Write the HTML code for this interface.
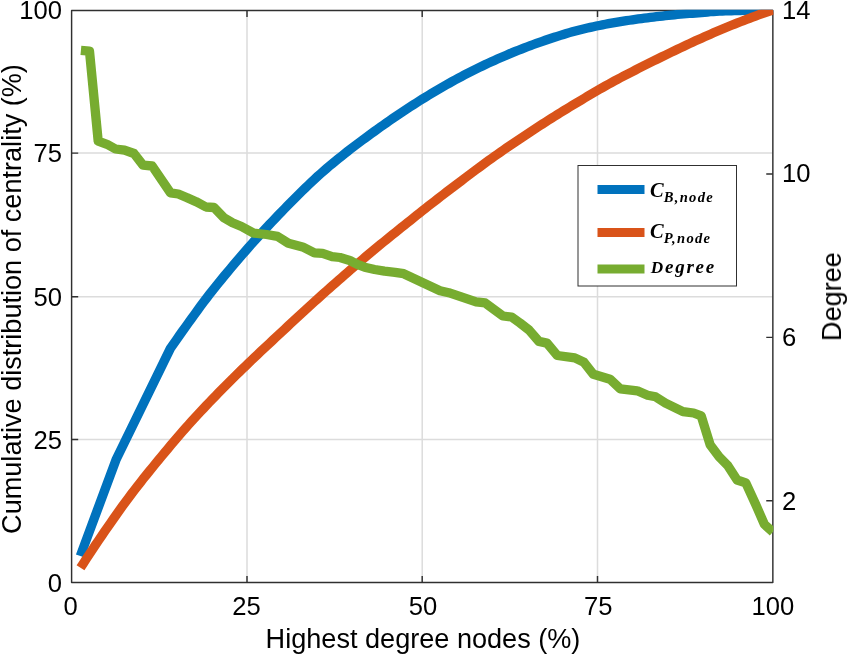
<!DOCTYPE html>
<html><head><meta charset="utf-8"><style>
html,body{margin:0;padding:0;background:#fff;overflow:hidden}
svg{display:block}
</style></head><body>
<svg width="847" height="655" viewBox="0 0 847 655">
<rect width="847" height="655" fill="#fff"/>
<path d="M247.0 10.5V582.5M422.2 10.5V582.5M597.5 10.5V582.5M71.6 439.4H772.85M71.6 296.8H772.85M71.6 153.1H772.85" stroke="#dcdcdc" stroke-width="1.5" fill="none"/>
<path d="M71.6 10.5H772.85V582.5H71.6Z" stroke="#303030" stroke-width="1.45" fill="none" stroke-linejoin="round"/>
<path d="M247.0 582.5v-6.6M247.0 10.5v6.6M422.2 582.5v-6.6M422.2 10.5v6.6M597.5 582.5v-6.6M597.5 10.5v6.6M71.6 439.4h6.6M71.6 296.8h6.6M71.6 153.1h6.6M772.85 173.93h-6.6M772.85 337.36h-6.6M772.85 500.79h-6.6" stroke="#303030" stroke-width="1.45" fill="none"/>
<defs><clipPath id="c"><rect x="71.6" y="9.8" width="701.75" height="572.70"/></clipPath></defs>
<g clip-path="url(#c)" fill="none" stroke-width="9.3" stroke-linejoin="round" stroke-linecap="butt">
<polyline points="80.30,556.00 116.00,459.80 170.40,348.40 173.40,344.09 176.40,339.80 179.40,335.54 182.40,331.31 185.40,327.10 188.40,322.91 191.40,318.75 194.40,314.60 197.40,310.46 200.40,306.35 203.40,302.31 206.40,298.33 209.40,294.45 212.40,290.62 215.40,286.86 218.40,283.13 221.40,279.46 224.40,275.82 227.40,272.21 230.40,268.62 233.40,265.06 236.40,261.53 239.40,258.02 242.40,254.54 245.40,251.08 248.40,247.66 251.40,244.26 254.40,240.90 257.40,237.56 260.40,234.26 263.40,230.99 266.40,227.75 269.40,224.54 272.40,221.35 275.40,218.19 278.40,215.06 281.40,211.96 284.40,208.88 287.40,205.83 290.40,202.80 293.40,199.78 296.40,196.78 299.40,193.79 302.40,190.82 305.40,187.88 308.40,184.98 311.40,182.12 314.40,179.30 317.40,176.54 320.40,173.84 323.40,171.20 326.40,168.61 329.40,166.07 332.40,163.56 335.40,161.10 338.40,158.66 341.40,156.26 344.40,153.87 347.40,151.52 350.40,149.19 353.40,146.89 356.40,144.62 359.40,142.37 362.40,140.14 365.40,137.94 368.40,135.74 371.40,133.56 374.40,131.39 377.40,129.23 380.40,127.08 383.40,124.95 386.40,122.83 389.40,120.73 392.40,118.66 395.40,116.60 398.40,114.57 401.40,112.57 404.40,110.58 407.40,108.61 410.40,106.66 413.40,104.73 416.40,102.81 419.40,100.92 422.40,99.05 425.40,97.19 428.40,95.37 431.40,93.56 434.40,91.77 437.40,90.00 440.40,88.24 443.40,86.50 446.40,84.79 449.40,83.09 452.40,81.42 455.40,79.77 458.40,78.15 461.40,76.56 464.40,74.98 467.40,73.43 470.40,71.89 473.40,70.38 476.40,68.89 479.40,67.42 482.40,65.97 485.40,64.54 488.40,63.14 491.40,61.76 494.40,60.40 497.40,59.06 500.40,57.74 503.40,56.44 506.40,55.15 509.40,53.89 512.40,52.65 515.40,51.43 518.40,50.23 521.40,49.05 524.40,47.89 527.40,46.74 530.40,45.61 533.40,44.49 536.40,43.39 539.40,42.32 542.40,41.26 545.40,40.23 548.40,39.23 551.40,38.24 554.40,37.27 557.40,36.31 560.40,35.37 563.40,34.44 566.40,33.54 569.40,32.66 572.40,31.81 575.40,30.99 578.40,30.20 581.40,29.45 584.40,28.73 587.40,28.03 590.40,27.35 593.40,26.69 596.40,26.05 599.40,25.43 602.40,24.83 605.40,24.25 608.40,23.69 611.40,23.15 614.40,22.63 617.40,22.12 620.40,21.63 623.40,21.15 626.40,20.69 629.40,20.24 632.40,19.80 635.40,19.38 638.40,18.97 641.40,18.56 644.40,18.17 647.40,17.79 650.40,17.41 653.40,17.05 656.40,16.69 659.40,16.35 662.40,16.01 665.40,15.68 668.40,15.37 671.40,15.06 674.40,14.76 677.40,14.47 680.40,14.20 683.40,13.93 686.40,13.69 689.40,13.46 692.40,13.25 695.40,13.04 698.40,12.82 701.40,12.58 704.40,12.30 707.40,12.01 710.40,11.73 713.40,11.49 716.40,11.33 719.40,11.19 722.40,11.06 725.40,10.94 728.40,10.83 731.40,10.73 734.40,10.64 737.40,10.56 740.40,10.49 743.40,10.43 746.40,10.38 749.40,10.33 752.40,10.28 755.40,10.24 758.40,10.20 761.40,10.17 764.40,10.14 767.40,10.12 770.40,10.10 772.90,10.10" stroke="#0072bd"/>
<polyline points="80.50,567.80 83.50,563.16 86.50,558.55 89.50,553.98 92.50,549.44 95.50,544.95 98.50,540.50 101.50,536.10 104.50,531.72 107.50,527.37 110.50,523.03 113.50,518.73 116.50,514.47 119.50,510.25 122.50,506.08 125.50,501.96 128.50,497.90 131.50,493.91 134.50,489.98 137.50,486.10 140.50,482.27 143.50,478.48 146.50,474.74 149.50,471.02 152.50,467.33 155.50,463.67 158.50,460.02 161.50,456.38 164.50,452.77 167.50,449.17 170.50,445.59 173.50,442.04 176.50,438.52 179.50,435.03 182.50,431.57 185.50,428.15 188.50,424.77 191.50,421.44 194.50,418.14 197.50,414.88 200.50,411.65 203.50,408.45 206.50,405.28 209.50,402.14 212.50,399.02 215.50,395.92 218.50,392.83 221.50,389.77 224.50,386.73 227.50,383.72 230.50,380.73 233.50,377.76 236.50,374.80 239.50,371.87 242.50,368.95 245.50,366.04 248.50,363.15 251.50,360.26 254.50,357.39 257.50,354.54 260.50,351.71 263.50,348.89 266.50,346.09 269.50,343.29 272.50,340.49 275.50,337.70 278.50,334.90 281.50,332.10 284.50,329.30 287.50,326.50 290.50,323.70 293.50,320.90 296.50,318.11 299.50,315.33 302.50,312.56 305.50,309.81 308.50,307.06 311.50,304.34 314.50,301.63 317.50,298.93 320.50,296.24 323.50,293.57 326.50,290.90 329.50,288.24 332.50,285.59 335.50,282.95 338.50,280.32 341.50,277.69 344.50,275.06 347.50,272.43 350.50,269.82 353.50,267.21 356.50,264.61 359.50,262.02 362.50,259.45 365.50,256.89 368.50,254.36 371.50,251.85 374.50,249.36 377.50,246.89 380.50,244.43 383.50,241.99 386.50,239.56 389.50,237.14 392.50,234.73 395.50,232.32 398.50,229.91 401.50,227.49 404.50,225.08 407.50,222.67 410.50,220.26 413.50,217.86 416.50,215.47 419.50,213.08 422.50,210.70 425.50,208.33 428.50,205.97 431.50,203.63 434.50,201.30 437.50,198.97 440.50,196.66 443.50,194.35 446.50,192.05 449.50,189.76 452.50,187.48 455.50,185.20 458.50,182.93 461.50,180.67 464.50,178.40 467.50,176.14 470.50,173.88 473.50,171.63 476.50,169.38 479.50,167.15 482.50,164.94 485.50,162.75 488.50,160.58 491.50,158.43 494.50,156.30 497.50,154.19 500.50,152.10 503.50,150.02 506.50,147.95 509.50,145.90 512.50,143.86 515.50,141.83 518.50,139.81 521.50,137.79 524.50,135.79 527.50,133.80 530.50,131.81 533.50,129.84 536.50,127.88 539.50,125.93 542.50,123.99 545.50,122.06 548.50,120.15 551.50,118.25 554.50,116.37 557.50,114.49 560.50,112.63 563.50,110.78 566.50,108.95 569.50,107.12 572.50,105.30 575.50,103.49 578.50,101.70 581.50,99.91 584.50,98.12 587.50,96.34 590.50,94.57 593.50,92.80 596.50,91.05 599.50,89.32 602.50,87.60 605.50,85.90 608.50,84.23 611.50,82.58 614.50,80.95 617.50,79.34 620.50,77.75 623.50,76.17 626.50,74.61 629.50,73.06 632.50,71.52 635.50,69.99 638.50,68.46 641.50,66.94 644.50,65.43 647.50,63.92 650.50,62.43 653.50,60.94 656.50,59.46 659.50,57.99 662.50,56.53 665.50,55.07 668.50,53.62 671.50,52.18 674.50,50.73 677.50,49.29 680.50,47.86 683.50,46.43 686.50,45.01 689.50,43.60 692.50,42.21 695.50,40.83 698.50,39.47 701.50,38.13 704.50,36.80 707.50,35.48 710.50,34.16 713.50,32.85 716.50,31.56 719.50,30.28 722.50,29.01 725.50,27.75 728.50,26.51 731.50,25.28 734.50,24.07 737.50,22.88 740.50,21.71 743.50,20.55 746.50,19.41 749.50,18.28 752.50,17.17 755.50,16.07 758.50,14.99 761.50,13.92 764.50,12.87 767.50,11.83 770.50,10.81 772.90,10.00" stroke="#d95319"/>
<polyline points="80.90,50.40 89.50,51.20 98.20,141.20 107.00,144.30 115.50,149.00 124.50,150.20 134.00,153.50 143.00,165.20 152.20,166.00 170.50,192.90 178.30,194.00 187.20,197.70 196.10,201.70 206.00,207.00 214.00,207.50 223.90,217.70 232.50,222.80 241.50,226.50 253.60,233.10 266.50,234.50 277.50,236.40 288.40,243.30 302.60,246.90 314.40,252.80 322.60,253.40 332.10,256.60 340.00,257.50 349.80,260.50 357.30,264.40 364.70,267.20 374.60,269.50 384.50,271.20 395.00,272.30 403.70,273.70 440.00,290.70 448.70,292.70 476.10,301.80 485.20,302.90 502.90,316.00 511.60,317.00 520.00,323.00 529.00,330.00 538.90,341.40 546.90,343.10 557.30,355.50 574.80,357.90 584.00,362.30 593.40,374.30 610.00,379.20 620.30,388.90 637.30,390.80 647.60,395.20 655.60,396.80 665.50,403.10 683.00,411.60 693.60,413.00 701.20,415.80 710.10,444.70 719.10,456.80 727.70,465.50 737.10,480.00 745.80,482.90 755.50,504.00 764.40,524.40 772.90,532.00" stroke="#77ac30"/>
</g>
<g font-family="Liberation Sans, sans-serif" font-size="25.6" fill="#000" style="will-change:transform">
<text x="70.7" y="614.5" text-anchor="middle">0</text>
<text x="246.6" y="614.5" text-anchor="middle">25</text>
<text x="423" y="614.5" text-anchor="middle">50</text>
<text x="598.25" y="614.5" text-anchor="middle">75</text>
<text x="772.85" y="614.5" text-anchor="middle">100</text>
<text x="62.0" y="591.7" text-anchor="end">0</text>
<text x="62.0" y="448.6" text-anchor="end">25</text>
<text x="62.0" y="306.0" text-anchor="end">50</text>
<text x="62.0" y="162.3" text-anchor="end">75</text>
<text x="62.0" y="19.0" text-anchor="end">100</text>
<text x="782.0" y="18.7">14</text>
<text x="782.0" y="182.4">10</text>
<text x="782.0" y="346.4">6</text>
<text x="782.0" y="509.8">2</text>
<text x="423" y="647.5" text-anchor="middle" font-size="27.1">Highest degree nodes (%)</text>
<text transform="translate(21 299) rotate(-90)" text-anchor="middle" font-size="27.1">Cumulative distribution of centrality (%)</text>
<text transform="translate(841 296.6) rotate(-90)" text-anchor="middle" font-size="27.1">Degree</text>
</g>
<rect x="578" y="165.5" width="158.5" height="120.5" fill="#fff" stroke="#303030" stroke-width="1"/>
<g stroke-width="9"><path d="M597.5 189.5H644.5" stroke="#0072bd"/><path d="M597.5 232.5H644.5" stroke="#d95319"/><path d="M597.5 269H644.5" stroke="#77ac30"/></g>
<g font-family="Liberation Serif, serif" font-weight="bold" font-style="italic" fill="#000" style="will-change:transform">
<text x="650" y="197.3" font-size="20.5">C<tspan font-size="14.6" dy="4.6" letter-spacing="1.3">B,node</tspan></text>
<text x="650" y="238.3" font-size="20.5">C<tspan font-size="14.6" dy="4.6" letter-spacing="1.3">P,node</tspan></text>
<text x="650.8" y="273.2" font-size="17.2" letter-spacing="1.75">D<tspan font-size="19">egree</tspan></text>
</g>
</svg>
</body></html>
